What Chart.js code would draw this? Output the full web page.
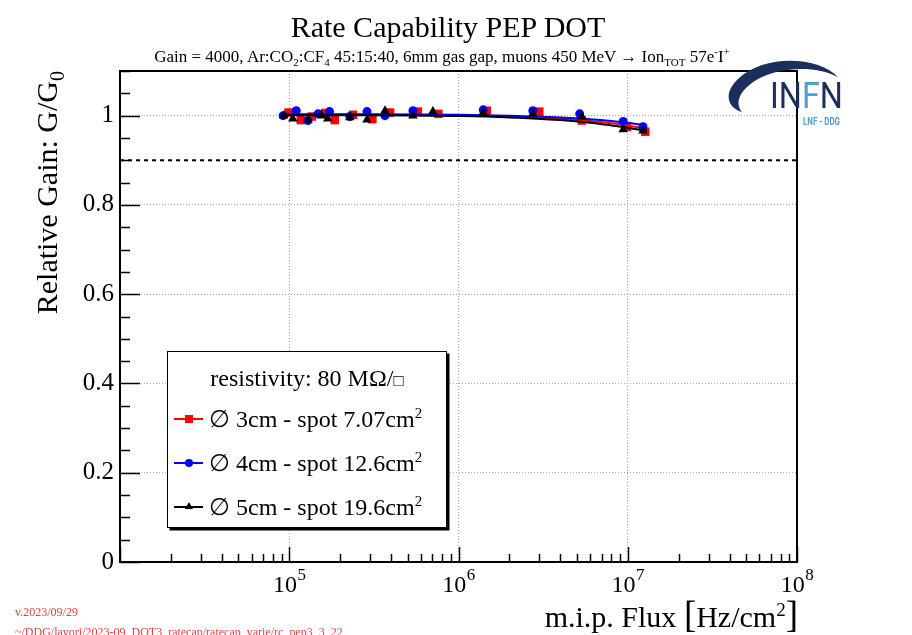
<!DOCTYPE html>
<html>
<head>
<meta charset="utf-8">
<script src="https://cdn.jsdelivr.net/npm/chart.js@4.4.0/dist/chart.umd.min.js"></script>
<style>
body { margin: 0; background: #fff; }
#wrap { position: relative; width: 912px; height: 635px; overflow: hidden; font-family: "Liberation Serif", "Times New Roman", serif; color: #000; }
#c { position: absolute; left: 0; top: 0; }
.abs { position: absolute; white-space: nowrap; }
#title { left: 0; width: 896px; top: 12px; text-align: center; font-size: 30px; line-height: 30px; }
#sub { left: 0; width: 884px; top: 48px; text-align: center; font-size: 17px; line-height: 17px; }
#sub sub, #sub sup { font-size: 11px; line-height: 0; }
#ytitle { left: -103px; top: 203px; width: 300px; height: 36px; line-height: 36px; font-size: 30px; text-align: right; transform: rotate(-90deg); }
#ytitle sub { font-size: 20px; line-height: 0; }
#xtitle { right: 114px; top: 597px; font-size: 30px; line-height: 36px; }
#xtitle .br { font-size: 37px; font-weight: 300; }
#xtitle sup { font-size: 19px; line-height: 0; }
#leg { left: 167px; top: 351px; width: 278px; height: 175px; border: 1.5px solid #000; box-shadow: 2.5px 2.5px 0 #000; background: #fff; }
#leg .hd { position: absolute; left: 0; width: 100%; top: 13px; text-align: center; font-size: 24px; line-height: 26px; }
#leg .hd .sq { font-size: 17px; }
#leg .row { position: absolute; left: 0; height: 26px; width: 100%; }
#leg .ln { position: absolute; left: 6px; top: 12px; width: 29px; height: 1.5px; }
#leg .mk { position: absolute; }
#leg .tx { position: absolute; left: 41px; top: 0; font-size: 24px; line-height: 26px; }
#leg sup { font-size: 15px; line-height: 0; }
.foot { left: 15px; font-size: 12px; line-height: 12px; color: #e8413c; }
</style>
</head>
<body>
<div id="wrap">
  <canvas id="c" width="912" height="635"></canvas>

  <div id="title" class="abs">Rate Capability PEP DOT</div>
  <div id="sub" class="abs">Gain = 4000, Ar:CO<sub>2</sub>:CF<sub>4</sub> 45:15:40, 6mm gas gap, muons 450 MeV &rarr; Ion<sub>TOT</sub> 57e<sup>-</sup>I<sup>+</sup></div>
  <div id="ytitle" class="abs">Relative Gain: G/G<sub>0</sub></div>
  <div id="xtitle" class="abs">m.i.p. Flux <span class="br">[</span>Hz/cm<sup>2</sup><span class="br">]</span></div>

  <div id="leg" class="abs">
    <div class="hd">resistivity: 80 M&Omega;/<span class="sq">&#9633;</span></div>
    <div class="row" style="top:54px">
      <div class="ln" style="background:#f00"></div>
      <div class="mk" style="left:17px;top:9px;width:8px;height:8px;background:#f00"></div>
      <div class="tx">&#8709; 3cm - spot 7.07cm<sup>2</sup></div>
    </div>
    <div class="row" style="top:98px">
      <div class="ln" style="background:#00f"></div>
      <div class="mk" style="left:17px;top:9px;width:8px;height:8px;border-radius:50%;background:#00f"></div>
      <div class="tx">&#8709; 4cm - spot 12.6cm<sup>2</sup></div>
    </div>
    <div class="row" style="top:142px">
      <div class="ln" style="background:#000"></div>
      <div class="mk" style="left:17px;top:8px;width:0;height:0;border-left:4px solid transparent;border-right:4px solid transparent;border-bottom:7px solid #000"></div>
      <div class="tx">&#8709; 5cm - spot 19.6cm<sup>2</sup></div>
    </div>
  </div>

  <svg class="abs" style="left:720px;top:55px" width="130" height="75" viewBox="0 0 130 75">
    <path d="M118,22 C100,2 45,-2 18,24 C4,37 6,52 22,57 C14,48 20,34 38,24 C60,12 95,10 118,22 Z" fill="#1b2f5e"/>
    <text x="50" y="53" font-family="Roboto, 'DejaVu Sans'" font-size="36" textLength="73" lengthAdjust="spacingAndGlyphs"><tspan fill="#1b2f5e">IN</tspan><tspan fill="#4f9fd0">F</tspan><tspan fill="#1b2f5e">N</tspan></text>
    <text x="83" y="70" font-family="Roboto, 'DejaVu Sans'" font-size="10" font-weight="bold" fill="#4f9fd0" textLength="37" lengthAdjust="spacingAndGlyphs">LNF - DDG</text>
  </svg>

  <div class="abs foot" style="top:606px">v.2023/09/29</div>
  <div class="abs foot" style="top:626px">~/DDG/lavori/2023-09_DOT3_ratecap/ratecap_varie/rc_pep3_3_22</div>
</div>

<script>
// data: flux in Hz/cm2, gain relative to G0
const flux3 = [9.9e4, 1.17e5, 1.36e5, 1.63e5, 1.86e5, 2.38e5, 3.1e5, 3.94e5, 5.75e5, 7.6e5, 1.47e6, 3.0e6, 5.35e6, 9.9e6, 1.27e7]
const gain3 = [1.007, 0.990, 0.998, 1.006, 0.990, 1.002, 0.992, 1.007, 1.009, 1.004, 1.011, 1.009, 0.989, 0.975, 0.964]

const flux4 = [9.2e4, 1.1e5, 1.29e5, 1.48e5, 1.73e5, 2.28e5, 2.88e5, 3.68e5, 5.38e5, 1.4e6, 2.75e6, 5.2e6, 9.4e6, 1.23e7]
const gain4 = [1.0, 1.011, 0.989, 1.004, 1.009, 0.998, 1.009, 1.0, 1.011, 1.013, 1.011, 1.004, 0.987, 0.975]

const flux5 = [9.3e4, 1.05e5, 1.29e5, 1.56e5, 1.69e5, 2.28e5, 2.88e5, 3.68e5, 5.38e5, 7.06e5, 1.4e6, 2.75e6, 5.35e6, 9.4e6, 1.23e7]
const gain5 = [1.0, 0.993, 0.991, 1.0, 0.993, 0.996, 0.991, 1.011, 1.0, 1.009, 1.007, 1.004, 0.998, 0.969, 0.966]

// fit curves, read at a few flux values
const fitFlux = [9e4, 3e5, 1e6, 2e6, 4e6, 6e6, 8e6, 1e7, 1.3e7]
const fit3 = [1.002, 1.002, 1.000, 0.998, 0.993, 0.988, 0.983, 0.978, 0.970]
const fit4 = [1.003, 1.003, 1.002, 1.000, 0.996, 0.992, 0.988, 0.984, 0.978]
const fit5 = [1.001, 1.001, 0.999, 0.996, 0.990, 0.984, 0.978, 0.973, 0.965]

const refGain = 0.9
const xRange = [1e4, 1e8]
const yRange = [0, 1.1]
const xLabelExp = [5, 6, 7, 8]
const yTickLabels = ['0', '0.2', '0.4', '0.6', '0.8', '1']

function pts(xs, ys) {
    return xs.map((x, i) => ({ x: x, y: ys[i] }))
}

// frame, inward tick marks and 10^n labels, ROOT style
const frameTicks = {
    id: 'frameTicks',
    afterDraw(chart) {
        const ctx = chart.ctx
        const a = chart.chartArea
        const xs = chart.scales.x
        const ys = chart.scales.y
        ctx.save()
        ctx.strokeStyle = '#000'
        ctx.lineWidth = 1.5
        xs.ticks.forEach(function (t) {
            const px = Math.round(xs.getPixelForValue(t.value)) + 0.5
            const len = t.major ? 15 : 8
            ctx.beginPath()
            ctx.moveTo(px, a.bottom)
            ctx.lineTo(px, a.bottom - len)
            ctx.stroke()
        })
        ys.ticks.forEach(function (t) {
            const py = Math.round(ys.getPixelForValue(t.value)) + 0.5
            const len = t.major ? 20 : 10
            ctx.beginPath()
            ctx.moveTo(a.left, py)
            ctx.lineTo(a.left + len, py)
            ctx.stroke()
        })
        ctx.lineWidth = 2
        ctx.strokeRect(a.left, a.top, a.right - a.left, a.bottom - a.top)

        // x labels as 10 with a raised exponent
        ctx.fillStyle = '#000'
        ctx.textBaseline = 'alphabetic'
        ctx.textAlign = 'left'
        xLabelExp.forEach(function (e) {
            const px = xs.getPixelForValue(Math.pow(10, e))
            ctx.font = '24px "Liberation Serif"'
            const wBase = ctx.measureText('10').width
            ctx.font = '17px "Liberation Serif"'
            const wExp = ctx.measureText(String(e)).width
            const x0 = px - (wBase + wExp) / 2
            ctx.font = '24px "Liberation Serif"'
            ctx.fillText('10', x0, a.bottom + 30)
            ctx.font = '17px "Liberation Serif"'
            ctx.fillText(String(e), x0 + wBase + 0.5, a.bottom + 18)
        })
        ctx.restore()
    }
}

const gridColor = function (c) {
    return c.tick && c.tick.major ? '#a8a8a8' : 'rgba(0,0,0,0)'
}

new Chart(document.getElementById('c'), {
    type: 'scatter',
    data: {
        datasets: [
            { label: 'fit 5cm', type: 'line', data: pts(fitFlux, fit5), borderColor: '#000', borderWidth: 2, pointRadius: 0, cubicInterpolationMode: 'monotone', order: 2 },
            { label: '5cm - spot 19.6cm2', data: pts(flux5, gain5), pointStyle: 'triangle', pointRadius: 5.5, backgroundColor: '#000', borderColor: '#000', borderWidth: 0, order: 1 },
            { label: 'fit 4cm', type: 'line', data: pts(fitFlux, fit4), borderColor: '#00f', borderWidth: 2, pointRadius: 0, cubicInterpolationMode: 'monotone', order: 3 },
            { label: '4cm - spot 12.6cm2', data: pts(flux4, gain4), pointStyle: 'circle', pointRadius: 4.5, backgroundColor: '#00f', borderColor: '#00f', borderWidth: 0, order: 4 },
            { label: 'fit 3cm', type: 'line', data: pts(fitFlux, fit3), borderColor: '#f00', borderWidth: 2, pointRadius: 0, cubicInterpolationMode: 'monotone', order: 5 },
            { label: '3cm - spot 7.07cm2', data: pts(flux3, gain3), pointStyle: 'rect', pointRadius: 6, backgroundColor: '#f00', borderColor: '#f00', borderWidth: 0, order: 6 },
            { label: 'reference', type: 'line', data: pts(xRange, [refGain, refGain]), borderColor: '#000', borderWidth: 2, borderDash: [4, 4], pointRadius: 0, order: 7 }
        ]
    },
    options: {
        responsive: false,
        animation: false,
        devicePixelRatio: 1,
        layout: { padding: { left: 0, top: 71, right: 115, bottom: 0 } },
        plugins: { legend: { display: false }, tooltip: { enabled: false } },
        scales: {
            x: {
                type: 'logarithmic',
                min: xRange[0],
                max: xRange[1],
                afterBuildTicks: function (scale) {
                    const ticks = []
                    for (let e = 4; e <= 8; e++) {
                        for (let m = 1; m <= 9; m++) {
                            const v = m * Math.pow(10, e)
                            if (v <= xRange[1]) ticks.push({ value: v, major: m === 1 })
                        }
                    }
                    scale.ticks = ticks
                },
                afterFit: function (scale) { scale.height = 73 },
                grid: { color: gridColor, lineWidth: 1, drawTicks: false },
                border: { display: false, dash: [1, 2] },
                ticks: {
                    autoSkip: false,
                    maxRotation: 0,
                    callback: function () { return '' }
                }
            },
            y: {
                type: 'linear',
                min: yRange[0],
                max: yRange[1],
                afterBuildTicks: function (scale) {
                    const ticks = []
                    for (let k = 0; k <= 22; k++) {
                        const v = k * 5 / 100
                        ticks.push({ value: v, major: yTickLabels.indexOf(String(v)) >= 0 })
                    }
                    scale.ticks = ticks
                },
                afterFit: function (scale) { scale.width = 120 },
                grid: { color: gridColor, lineWidth: 1, drawTicks: false },
                border: { display: false, dash: [1, 2] },
                ticks: {
                    autoSkip: false,
                    padding: 6,
                    color: '#000',
                    font: { family: 'Liberation Serif', size: 25 },
                    callback: function (v, i, ticks) {
                        return ticks[i].major ? String(v) : ''
                    }
                }
            }
        }
    },
    plugins: [frameTicks]
})
</script>
</body>
</html>
